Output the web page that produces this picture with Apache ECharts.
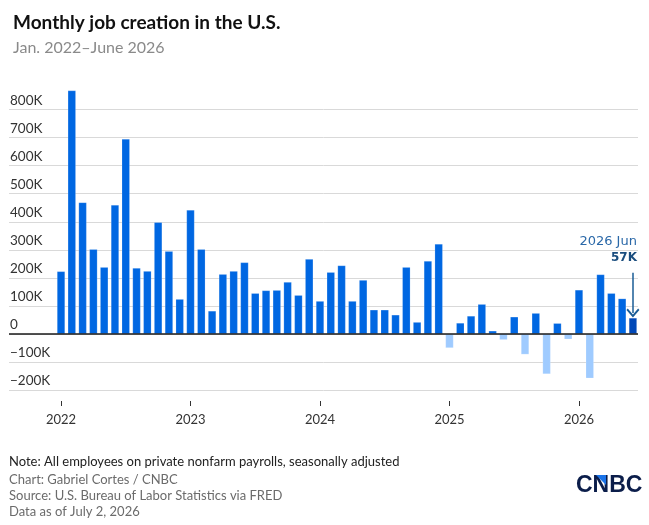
<!DOCTYPE html>
<html><head><meta charset="utf-8">
<script src="https://cdn.jsdelivr.net/npm/echarts@6/dist/echarts.min.js"></script>
<style>html,body{margin:0;padding:0;background:#fff}#c{width:649px;height:525px}</style>
</head><body><div id="c"></div>
<script>
// Monthly private nonfarm payroll change, thousands
const years = ['2022', '2023', '2024', '2025', '2026'];
const monthNames = ['Jan','Feb','Mar','Apr','May','Jun','Jul','Aug','Sep','Oct','Nov','Dec'];
const jobs2022 = [223, 868, 469, 302, 238, 460, 695, 235, 224, 398, 295, 124];
const jobs2023 = [442, 302, 82, 213, 224, 255, 145, 155, 156, 185, 138, 267];
const jobs2024 = [117, 220, 244, 117, 192, 86, 86, 68, 238, 42, 260, 321];
const jobs2025 = [-50, 39, 64, 106, 11, -21, 61, -73, 74, -143, 38, -19];
const jobs2026 = [157, -158, 212, 145, 126, 57];
const yTickValues = [-200, -100, 0, 100, 200, 300, 400, 500, 600, 700, 800];
const xTickValues = [0, 12, 24, 36, 48];

const values = [].concat(jobs2022, jobs2023, jobs2024, jobs2025, jobs2026);
const categories = [];
years.forEach(y => monthNames.forEach(m => categories.push(y + ' ' + m)));
categories.length = values.length;

const lastIdx = values.length - 1;
const barData = values.map((v, i) => ({
  value: [i, v],
  itemStyle: { color: i === lastIdx ? '#0048b8' : (v < 0 ? '#9fcbff' : '#0067e2') }
}));

const FONT = 'Lato';
const fmtK = v => v === 0 ? '0' : (v < 0 ? '\u2212' + (-v) + 'K' : v + 'K');

const chart = echarts.init(document.getElementById('c'), null, { renderer: 'canvas' });
chart.setOption({
  animation: false,
  backgroundColor: '#fff',
  textStyle: { fontFamily: FONT },
  title: [
    { text: 'Monthly job creation in the U.S.', left: 8, top: 8,
      textStyle: { fontFamily: FONT, fontWeight: 'bold', fontSize: 19, color: '#111' } },
    { text: 'Jan. 2022\u2013June 2026', left: 8, top: 35,
      textStyle: { fontFamily: FONT, fontWeight: 'normal', fontSize: 16, color: '#8a8a8a' } }
  ],
  grid: { left: 9, right: 11, top: 90, bottom: 135, containLabel: false },
  xAxis: {
    type: 'value', min: -4.82, max: 53.47, position: 'bottom', offset: 11,
    axisLine: { show: false, onZero: false },
    axisTick: { show: true, length: 5, customValues: xTickValues, lineStyle: { color: '#333', width: 1 } },
    axisLabel: { customValues: xTickValues, margin: 12, fontSize: 13, color: '#333', fontFamily: FONT,
      formatter: v => categories[v] ? categories[v].slice(0, 4) : '' },
    splitLine: { show: false }
  },
  yAxis: {
    type: 'value', min: -200, max: 870,
    axisLine: { show: false },
    axisTick: { show: false, customValues: yTickValues },
    axisLabel: { customValues: yTickValues, inside: true, margin: 1, align: 'left', verticalAlign: 'bottom',
      padding: [0, 0, 2, 0], fontSize: 13.5, color: '#333', fontFamily: FONT, formatter: fmtK },
    splitLine: { show: true, lineStyle: { color: '#d9d9d9', width: 1 } }
  },
  series: [{
    type: 'bar', data: barData, barWidth: 8,
    itemStyle: { borderColor: 'rgba(255,255,255,0.35)', borderWidth: 0.5 },
    markLine: {
      silent: true, symbol: ['none', 'none'], animation: false,
      label: { show: false },
      data: [
        { yAxis: 0, lineStyle: { color: '#1a1a1a', width: 1.5, type: 'solid' } },
        [
          { coord: [lastIdx, 218], symbol: 'none', lineStyle: { color: '#1a5c96', width: 1.5, type: 'solid' } },
          { coord: [lastIdx, 75], symbol: 'path://M0,10 L10,0 L20,10 L18,12 L10,4 L2,12 Z', symbolSize: [13, 9] }
        ]
      ]
    },
    markPoint: {
      silent: true, symbol: 'circle', symbolSize: 0,
      data: [{ coord: [lastIdx, 218], value: values[lastIdx] }],
      label: {
        show: true, position: [4, -40], align: 'right', verticalAlign: 'top',
        formatter: p => '{a|' + categories[p.data.coord[0]] + '}\n{b|' + fmtK(p.data.value) + '}',
        rich: {
          a: { fontFamily: 'DejaVu Sans', fontSize: 13, color: '#2a68a8', lineHeight: 17 },
          b: { fontFamily: 'DejaVu Sans', fontSize: 12, fontWeight: 'bold', color: '#1a4d7e', lineHeight: 17 }
        }
      }
    }
  }],
  graphic: [
    { type: 'text', left: 9, top: 455, style: { text: 'Note: All employees on private nonfarm payrolls, seasonally adjusted', fontFamily: FONT, fontSize: 13, fill: '#222' } },
    { type: 'text', left: 9, top: 473, style: { text: 'Chart: Gabriel Cortes / CNBC', fontFamily: FONT, fontSize: 13, fill: '#6b6b6b' } },
    { type: 'text', left: 9, top: 489, style: { text: 'Source: U.S. Bureau of Labor Statistics via FRED', fontFamily: FONT, fontSize: 13, fill: '#6b6b6b' } },
    { type: 'text', left: 9, top: 505, style: { text: 'Data as of July 2, 2026', fontFamily: FONT, fontSize: 13, fill: '#6b6b6b' } },
    { type: 'text', left: 576, top: 474, style: { text: 'CNBC', fontFamily: 'Liberation Sans', fontWeight: 'bold', fontSize: 23, fill: '#0b1d4a' } },
    { type: 'polygon', shape: { points: [[596, 475], [606, 475], [606, 485]] }, style: { fill: '#1a73e8' } }
  ]
});
</script></body></html>
